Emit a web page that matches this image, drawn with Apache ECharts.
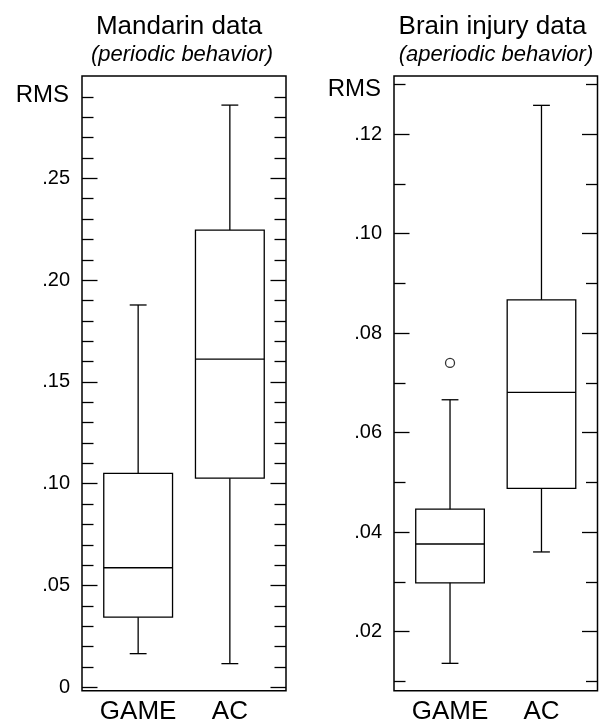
<!DOCTYPE html>
<html lang="en">
<head>
  <meta charset="UTF-8">
  <title>RMS box plots</title>
  <script src="https://cdn.jsdelivr.net/npm/echarts@6/dist/echarts.min.js"></script>
</head>
<body style="margin: 0;">
  <div id="chart" style="width: 602px; height: 726px;"></div>
  <script>
    const FONT = 'Liberation Sans, Arial, Helvetica, sans-serif';

    // Categories
    const groups = ["GAME", "AC"];

    // Box stats: [lower whisker, Q1, median, Q3, upper whisker]
    const mandarinGame = [0.0165, 0.0344, 0.0587, 0.1051, 0.1878];
    const mandarinAC = [0.0116, 0.1027, 0.1612, 0.2246, 0.2860];
    const brainGame = [0.0136, 0.0298, 0.0376, 0.0446, 0.0666];
    const brainAC = [0.0360, 0.0488, 0.0681, 0.0867, 0.1258];
    const brainGameOutliers = [0.074];

    // Tick values
    const mandarinMajorTicks = [0, 0.05, 0.10, 0.15, 0.20, 0.25];
    const mandarinMinorTicks = [0.01, 0.02, 0.03, 0.04, 0.06, 0.07, 0.08, 0.09, 0.11, 0.12, 0.13, 0.14,
      0.16, 0.17, 0.18, 0.19, 0.21, 0.22, 0.23, 0.24, 0.26, 0.27, 0.28, 0.29];
    const brainMajorTicks = [0.02, 0.04, 0.06, 0.08, 0.10, 0.12];
    const brainMinorTicks = [0.01, 0.03, 0.05, 0.07, 0.09, 0.11, 0.13];

    const panels = [
      {
        title: "Mandarin data", subtitle: "(periodic behavior)",
        titleX: 179, subX: 182, left: 82, width: 204,
        min: -0.0017, max: 0.3003, rmsAt: 0.2906,
        major: mandarinMajorTicks, minor: mandarinMinorTicks,
        boxes: [mandarinGame, mandarinAC], outliers: []
      },
      {
        title: "Brain injury data", subtitle: "(aperiodic behavior)",
        titleX: 492.5, subX: 496, left: 394, width: 203.5,
        min: 0.0081, max: 0.1317, rmsAt: 0.1290,
        major: brainMajorTicks, minor: brainMinorTicks,
        boxes: [brainGame, brainAC], outliers: brainGameOutliers
      }
    ];

    const TOP = 76;
    const HEIGHT = 614.7;
    const INSET = 10.3;

    const tickLabel = v => v === 0 ? "0" : v.toFixed(2).replace(/^0/, "");
    const lineStyle = { color: "#000", width: 1.3 };

    const renderBox = (params, api) => {
      const x = api.value(0);
      const lo = api.coord([x, api.value(1)]);
      const q1 = api.coord([x, api.value(2)]);
      const med = api.coord([x, api.value(3)]);
      const q3 = api.coord([x, api.value(4)]);
      const hi = api.coord([x, api.value(5)]);
      const band = api.size([1, 0])[0];
      const half = band * 0.375;
      const cap = band * 0.092;
      const style = { stroke: "#000", lineWidth: 1.3, fill: null };
      const seg = (x1, y1, x2, y2) => ({ type: "line", shape: { x1, y1, x2, y2 }, style });
      return {
        type: "group",
        children: [
          seg(hi[0], hi[1], q3[0], q3[1]),
          seg(lo[0], lo[1], q1[0], q1[1]),
          seg(hi[0] - cap, hi[1], hi[0] + cap, hi[1]),
          seg(lo[0] - cap, lo[1], lo[0] + cap, lo[1]),
          { type: "rect", shape: { x: q3[0] - half, y: q3[1], width: half * 2, height: q1[1] - q3[1] }, style },
          seg(med[0] - half, med[1], med[0] + half, med[1])
        ]
      };
    };

    const title = [];
    const grid = [];
    const xAxis = [];
    const yAxis = [];
    const series = [];

    panels.forEach((p, i) => {
      title.push({
        text: p.title, left: p.titleX, top: 14, textAlign: "center", padding: 0,
        textStyle: { fontFamily: FONT, fontSize: 26, fontWeight: "normal", color: "#000" }
      });
      title.push({
        text: p.subtitle, left: p.subX, top: 43.5, textAlign: "center", padding: 0,
        textStyle: { fontFamily: FONT, fontSize: 22, fontWeight: "normal", fontStyle: "italic", color: "#000" }
      });

      // frame grid (border + ticks) and data grid (boxes)
      const frameIdx = grid.length;
      grid.push({
        left: p.left, top: TOP, width: p.width, height: HEIGHT,
        show: true, borderColor: "#000", borderWidth: 1.5, backgroundColor: "transparent",
        outerBoundsMode: "none"
      });
      const dataIdx = grid.length;
      grid.push({
        left: p.left + INSET, top: TOP, width: p.width - 2 * INSET, height: HEIGHT,
        outerBoundsMode: "none"
      });

      xAxis.push({ gridIndex: frameIdx, type: "value", min: 0, max: 1, show: false });
      const dataX = xAxis.length;
      xAxis.push({
        gridIndex: dataIdx, type: "category", data: groups,
        axisLine: { show: false }, axisTick: { show: false },
        axisLabel: { interval: 0, hideOverlap: false, fontFamily: FONT, fontSize: 26, color: "#000", margin: 8 }
      });

      const tickAxis = (position, values, length, labels) => ({
        gridIndex: frameIdx, type: "value", min: p.min, max: p.max, position,
        axisLine: { show: false }, splitLine: { show: false },
        axisTick: { show: true, inside: true, length, customValues: values, lineStyle },
        axisLabel: labels
          ? { show: true, customValues: values, formatter: tickLabel, fontFamily: FONT, fontSize: 20, color: "#000", margin: 12 }
          : { show: false }
      });
      yAxis.push(tickAxis("left", p.major, 15.5, true));
      yAxis.push(tickAxis("left", p.minor, 11.5, false));
      yAxis.push(tickAxis("right", p.major, 15.5, false));
      yAxis.push(tickAxis("right", p.minor, 11.5, false));
      yAxis.push({
        gridIndex: frameIdx, type: "value", min: p.min, max: p.max, position: "left",
        axisLine: { show: false }, splitLine: { show: false }, axisTick: { show: false },
        axisLabel: { customValues: [p.rmsAt], formatter: () => "RMS", fontFamily: FONT, fontSize: 24, color: "#000", margin: 13 }
      });
      const dataY = yAxis.length;
      yAxis.push({ gridIndex: dataIdx, type: "value", min: p.min, max: p.max, show: false });

      series.push({
        type: "custom",
        xAxisIndex: dataX, yAxisIndex: dataY,
        renderItem: renderBox,
        encode: { x: 0, y: [1, 2, 3, 4, 5] },
        data: p.boxes.map((b, k) => [k, ...b]),
        silent: true
      });
      if (p.outliers.length) {
        series.push({
          type: "scatter",
          xAxisIndex: dataX, yAxisIndex: dataY,
          symbol: "circle", symbolSize: 9,
          itemStyle: { color: "#fff", borderColor: "#000", borderWidth: 1.3 },
          data: p.outliers.map(v => [0, v]),
          silent: true
        });
      }
    });

    const chart = echarts.init(document.getElementById("chart"), null, { renderer: "canvas" });
    chart.setOption({
      backgroundColor: "#fff",
      animation: false,
      title, grid, xAxis, yAxis, series
    });
  </script>
</body>
</html>
